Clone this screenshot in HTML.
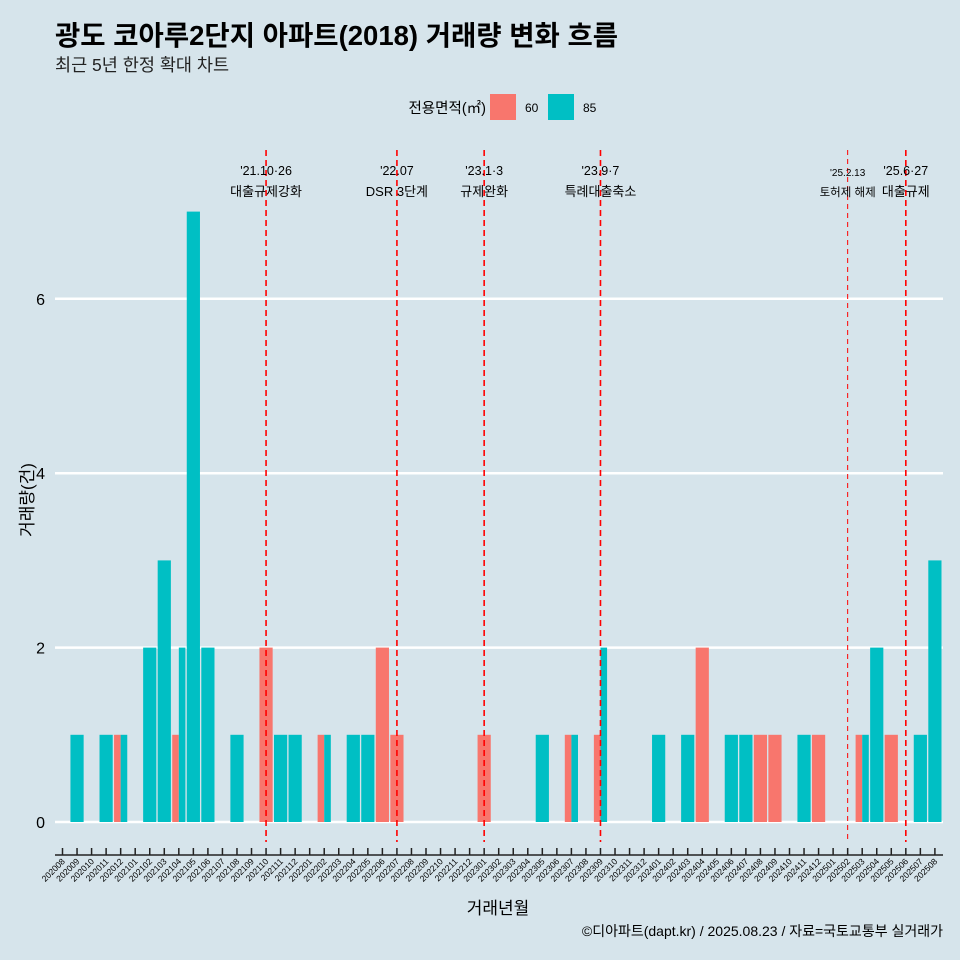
<!DOCTYPE html>
<html><head><meta charset="utf-8"><style>
body{margin:0;background:#d6e4eb;}
svg{display:block;font-family:"Liberation Sans","Noto Sans CJK KR",sans-serif;}
</style></head><body>
<svg id="c" width="960" height="960" xmlns="http://www.w3.org/2000/svg">
<rect width="960" height="960" fill="#d6e4eb"/>
<text x="55" y="45" font-size="27.5" font-weight="bold" fill="#000">광도 코아루2단지 아파트(2018) 거래량 변화 흐름</text>
<text x="55" y="71" font-size="17.5" fill="#222">최근 5년 한정 확대 차트</text>
<g>
<text x="486" y="113" font-size="14.5" text-anchor="end">전용면적(㎡)</text>
<rect x="490" y="94" width="26" height="26" fill="#f8766d"/>
<text x="525" y="112" font-size="12">60</text>
<rect x="548" y="94" width="26" height="26" fill="#00bfc4"/>
<text x="583" y="112" font-size="12">85</text>
</g>
<g id="grid"></g><g id="bars"></g><g id="events"></g><g id="xaxis"></g><g id="yaxis"></g>
<text transform="translate(33,500) rotate(-90)" font-size="17" text-anchor="middle">거래량(건)</text>
<text x="498" y="914" font-size="17" text-anchor="middle">거래년월</text>
<text x="943" y="936" font-size="14" text-anchor="end">©디아파트(dapt.kr) / 2025.08.23 / 자료=국토교통부 실거래가</text>
</svg>
<script>
const months=["202008","202009","202010","202011","202012","202101","202102","202103","202104","202105","202106","202107","202108","202109","202110","202111","202112","202201","202202","202203","202204","202205","202206","202207","202208","202209","202210","202211","202212","202301","202302","202303","202304","202305","202306","202307","202308","202309","202310","202311","202312","202401","202402","202403","202404","202405","202406","202407","202408","202409","202410","202411","202412","202501","202502","202503","202504","202505","202506","202507","202508"];
const s60=[0,0,0,0,1,0,0,0,1,0,0,0,0,0,2,0,0,0,1,0,0,0,2,1,0,0,0,0,0,1,0,0,0,0,0,1,0,1,0,0,0,0,0,0,2,0,0,0,1,1,0,0,1,0,0,1,0,1,0,0,0];
const s85=[0,1,0,1,1,0,2,3,2,7,2,0,1,0,0,1,1,0,1,0,1,1,0,0,0,0,0,0,0,0,0,0,0,1,0,1,0,2,0,0,0,1,0,1,0,0,1,1,0,0,0,1,0,0,0,1,2,0,0,1,3];
const yTicks=[0,2,4,6];
const eventMonths=["202110","202207","202301","202309","202502","202506"];
const eventDates=["'21.10·26","'22.07","'23.1·3","'23.9·7","'25.2.13","'25.6·27"];
const eventLabels=["대출규제강화","DSR 3단계","규제완화","특례대출축소","토허제 해제","대출규제"];

const NS="http://www.w3.org/2000/svg";
const x0=62.5,step=14.54,bw=13.2;
const xs=i=>x0+i*step;
const ys=v=>822-v*87.2;
function mk(tag,attrs,parent){const e=document.createElementNS(NS,tag);for(const k in attrs)e.setAttribute(k,attrs[k]);parent.appendChild(e);return e;}
const grid=document.getElementById('grid'),bars=document.getElementById('bars'),ev=document.getElementById('events'),xa=document.getElementById('xaxis'),ya=document.getElementById('yaxis');
yTicks.forEach(t=>{
  const l=mk('line',{x1:55,x2:943,y1:ys(t),y2:ys(t),stroke:'#fff','stroke-width':2.5},grid);
  
  
  const tx=mk('text',{x:45,y:ys(t)+6,'font-size':16,'text-anchor':'end'},ya);
  tx.textContent=t;
  
  
});
months.forEach((m,i)=>{
  const a=s60[i],b=s85[i],cx=xs(i);
  const both=a>0&&b>0;
  if(a>0){
    const r=mk('rect',{x:cx-bw/2,y:ys(a),width:both?bw/2:bw,height:ys(0)-ys(a),fill:'#f8766d'},bars);
    
    
  }
  if(b>0){
    const r=mk('rect',{x:both?cx:cx-bw/2,y:ys(b),width:both?bw/2:bw,height:ys(0)-ys(b),fill:'#00bfc4'},bars);
    
    
  }
  const tk=mk('line',{x1:cx,x2:cx,y1:848,y2:855,stroke:'#222','stroke-width':1.5},xa);
  
  
  const tl=mk('text',{transform:`translate(${cx+3},862) rotate(-45)`,'font-size':8.6,'text-anchor':'end'},xa);
  tl.textContent=m;
  
  
});
const ax=mk('line',{x1:55,x2:943,y1:855,y2:855,stroke:'#222','stroke-width':1.5},xa);


eventMonths.forEach((m,k)=>{
  const cx=xs(months.indexOf(m));
  const thin=k===4;
  const l=mk('line',{x1:cx,x2:cx,y1:150,y2:842,stroke:'#ff0000','stroke-width':thin?1:1.6,'stroke-dasharray':thin?'5,4':'6,4'},ev);
  
  
  const fs=thin?10:12.5;
  const t1=mk('text',{x:cx,y:thin?176:175,'font-size':fs,'text-anchor':'middle'},ev);
  t1.textContent=eventDates[k];
  
  
  const t2=mk('text',{x:cx,y:196,'font-size':thin?11.5:13,'text-anchor':'middle'},ev);
  t2.textContent=eventLabels[k];
  
  
});
</script>
</body></html>
